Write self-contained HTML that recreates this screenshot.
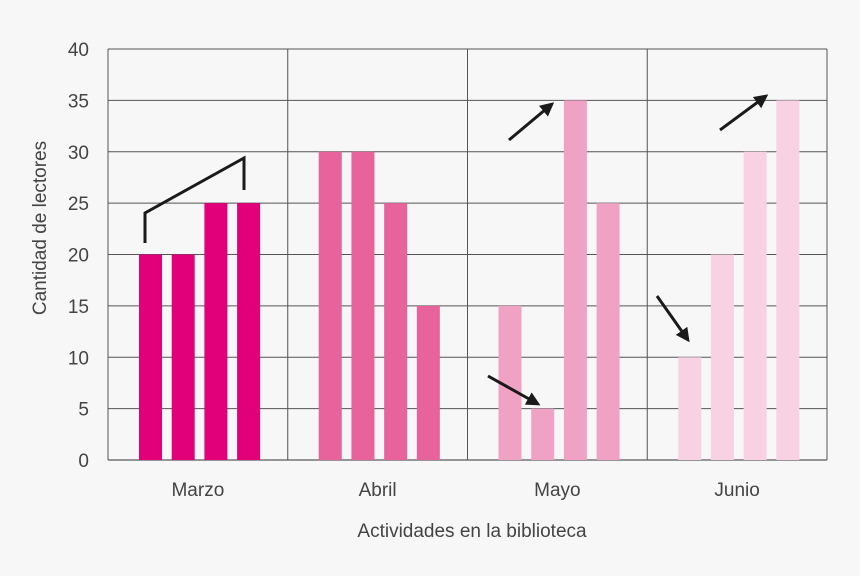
<!DOCTYPE html>
<html><head><meta charset="utf-8"><style>
body{margin:0;background:#f7f7f7;}
svg{display:block;font-family:"Liberation Sans",sans-serif;}
</style></head><body>
<svg id="chart" width="860" height="576">
<defs><marker id="ah" markerWidth="8" markerHeight="8" refX="6" refY="4" orient="auto" markerUnits="userSpaceOnUse"><path d="M0,0 L14,4 L0,8 Z" transform="scale(0.6 1)"/></marker>
<marker id="ah2" viewBox="0 0 10 10" markerWidth="14" markerHeight="14" refX="8" refY="5" orient="auto" markerUnits="userSpaceOnUse"><path d="M0,0 L10,5 L0,10 Z" fill="#1a1a1a"/></marker></defs>
<g id="grid"></g><g id="bars"></g><g id="labels"></g>
<text x="472" y="537" text-anchor="middle" font-size="19" fill="#444">Actividades en la biblioteca</text>
<text transform="translate(46,228) rotate(-90)" text-anchor="middle" font-size="19" fill="#444">Cantidad de lectores</text>
<polyline points="145,243 145,213 244,158 244,190" fill="none" stroke="#1a1a1a" stroke-width="3"/>
<line x1="509" y1="140" x2="552" y2="104" stroke="#1a1a1a" stroke-width="3" marker-end="url(#ah2)"/>
<line x1="488" y1="376" x2="538" y2="404" stroke="#1a1a1a" stroke-width="3" marker-end="url(#ah2)"/>
<line x1="720" y1="130" x2="766" y2="96" stroke="#1a1a1a" stroke-width="3" marker-end="url(#ah2)"/>
<line x1="657" y1="296" x2="688" y2="340" stroke="#1a1a1a" stroke-width="3" marker-end="url(#ah2)"/>
</svg>
<script>
const categories=["Marzo","Abril","Mayo","Junio"];
const marzo=[20,20,25,25];
const abril=[30,30,25,15];
const mayo=[15,5,35,25];
const junio=[10,20,30,35];
const yTicks=[0,5,10,15,20,25,30,35,40];
const series=[marzo,abril,mayo,junio];
const colors=["#e2007a","#e8629c","#f0a2c5","#f8d2e3"];
const X0=108,X1=827,Y0=460,Y1=49,YMAX=40;
const gw=(X1-X0)/categories.length;
const y=v=>Y0-(v/YMAX)*(Y0-Y1);
const NS="http://www.w3.org/2000/svg";
function mk(tag,attrs,parent){const e=document.createElementNS(NS,tag);for(const k in attrs)e.setAttribute(k,attrs[k]);document.getElementById(parent).appendChild(e);return e;}
yTicks.forEach(t=>{
 const l=mk("line",{x1:X0,x2:X1,y1:y(t),y2:y(t),stroke:t===0?"#333":"#555","stroke-width":1},"grid");
 
 
 const tx=mk("text",{x:89,y:y(t)+7,"text-anchor":"end","font-size":19,fill:"#444"},"labels");
 tx.textContent=t;
 
 
});
for(let i=0;i<=categories.length;i++){
 const l=mk("line",{x1:X0+gw*i,x2:X0+gw*i,y1:Y1,y2:Y0,stroke:"#555","stroke-width":1},"grid");
 
 
}
categories.forEach((c,i)=>{
 const tx=mk("text",{x:X0+gw*i+gw/2,y:496,"text-anchor":"middle","font-size":19,fill:"#444"},"labels");
 tx.textContent=c;
 
 
 series[i].forEach((v,j)=>{
  const bx=X0+gw*i+31+j*32.7;
  const r=mk("rect",{x:bx,y:y(v),width:23,height:Y0-y(v),fill:colors[i]},"bars");
  
  
 });
});
</script>
</body></html>
